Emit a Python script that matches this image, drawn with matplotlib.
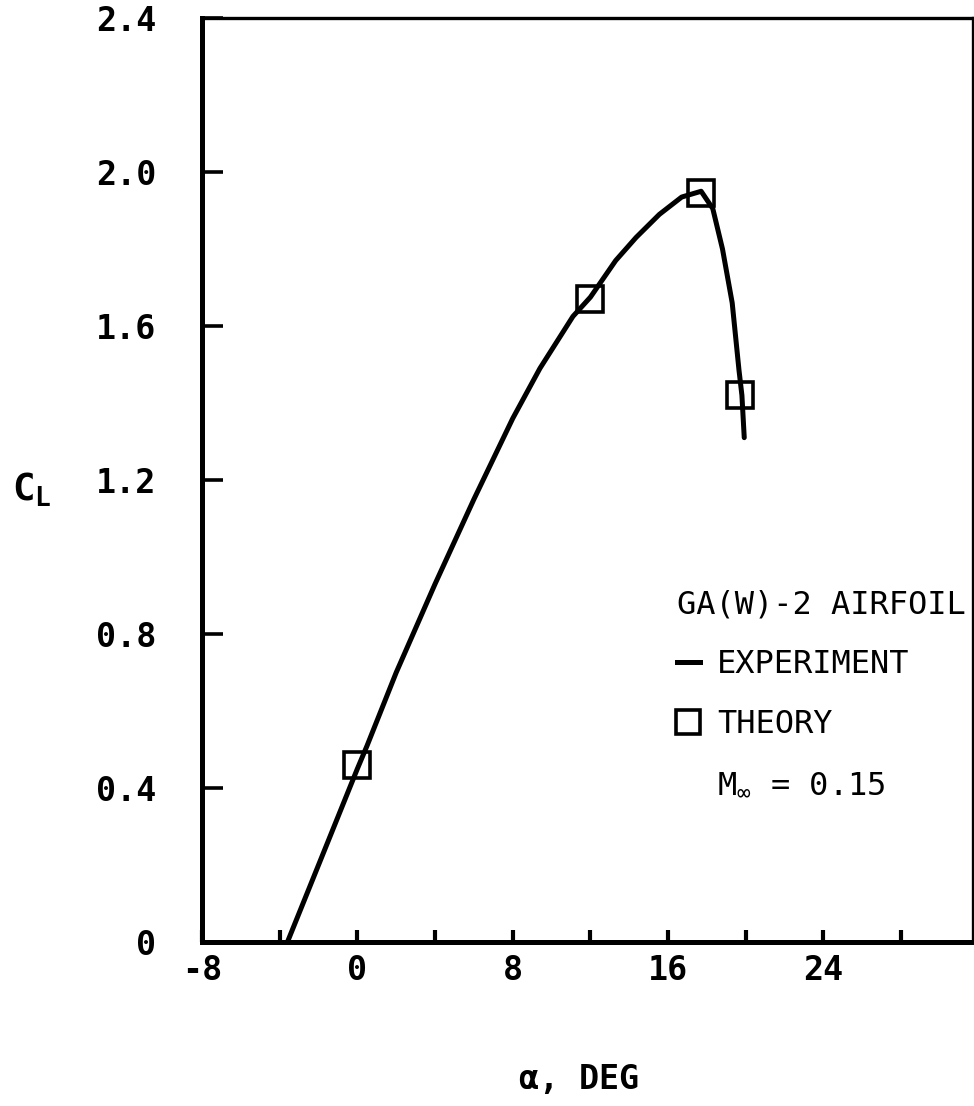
import matplotlib
matplotlib.use("Agg")
import matplotlib.pyplot as plt
from matplotlib.lines import Line2D

# lift coefficient vs angle of attack, GA(W)-2 airfoil, M = 0.15
alpha_exp = [-3.6, -2.0, 0.0, 0.5, 2.0, 4.0, 6.0, 8.0, 9.4, 11.1, 12.0,
             13.3, 14.35, 15.55, 16.7, 17.7, 18.3, 18.8, 19.3, 19.65, 19.8, 19.92]
cl_exp = [0.0, 0.2, 0.45, 0.51, 0.70, 0.93, 1.15, 1.36, 1.49, 1.625, 1.675,
          1.77, 1.83, 1.89, 1.935, 1.95, 1.905, 1.80, 1.66, 1.485, 1.42, 1.31]

alpha_theory = [0.0, 12.0, 17.7, 19.7]
cl_theory = [0.46, 1.67, 1.945, 1.42]

x_ticks = [-8, -4, 0, 4, 8, 12, 16, 20, 24, 28]
x_ticklabels = ['-8', '', '0', '', '8', '', '16', '', '24', '']
y_ticks = [0, 0.4, 0.8, 1.2, 1.6, 2.0, 2.4]
y_ticklabels = ['0', '0.4', '0.8', '1.2', '1.6', '2.0', '2.4']

plt.rcParams['font.family'] = ['DejaVu Sans Mono', 'DejaVu Sans']
plt.rcParams['mathtext.default'] = 'regular'

fig = plt.figure(figsize=(9.74, 11.06), dpi=100)
ax = fig.add_axes([0.2074, 0.1483, 0.7916, 0.8354])

ax.plot(alpha_exp, cl_exp, color='black', lw=3.6, solid_capstyle='round',
        solid_joinstyle='round')
ax.plot(alpha_theory, cl_theory, ls='none', marker='s', ms=19, mfc='none',
        mec='black', mew=2.6)

ax.set_xlim(-8, 31.7)
ax.set_ylim(0, 2.4)

for side in ['left', 'bottom']:
    ax.spines[side].set_linewidth(3.6)
for side in ['top', 'right']:
    ax.spines[side].set_linewidth(2.4)

ax.set_xticks(x_ticks)
ax.set_xticklabels(x_ticklabels)
ax.set_yticks(y_ticks)
ax.set_yticklabels(y_ticklabels)
ax.tick_params(axis='x', direction='in', length=9, width=3, pad=9,
               labelsize=24)
ax.tick_params(axis='y', direction='in', length=15, width=2.6, pad=33,
               labelsize=24)
for lab in ax.get_xticklabels() + ax.get_yticklabels():
    lab.set_fontweight('bold')

ax.set_ylabel(r'$C_L$', rotation=0, fontsize=27, fontweight='bold',
              ha='center', va='center')
ax.yaxis.set_label_coords(32 / 974, 1 - 490 / 1106, transform=fig.transFigure)
ax.set_xlabel(r'$\alpha$, DEG', fontsize=24, fontweight='bold',
              ha='center', va='center')
ax.xaxis.set_label_coords(578 / 974, 1 - 1079 / 1106, transform=fig.transFigure)

handles = [Line2D([], [], color='black', lw=3.6),
           Line2D([], [], ls='none', marker='s', ms=17, mfc='none',
                  mec='black', mew=2.6),
           Line2D([], [], ls='none')]
labels = ['EXPERIMENT', 'THEORY', r'$M_\infty$ = 0.15']
leg = ax.legend(handles, labels, title='GA(W)-2 AIRFOIL', loc='upper left',
                bbox_to_anchor=(16.47, 0.915), bbox_transform=ax.transData,
                frameon=False, fontsize=23, title_fontsize=23,
                alignment='left', handlelength=0.7, handletextpad=0.55,
                labelspacing=0.9, borderpad=0, borderaxespad=0)

fig.savefig('out.png', dpi=100)
